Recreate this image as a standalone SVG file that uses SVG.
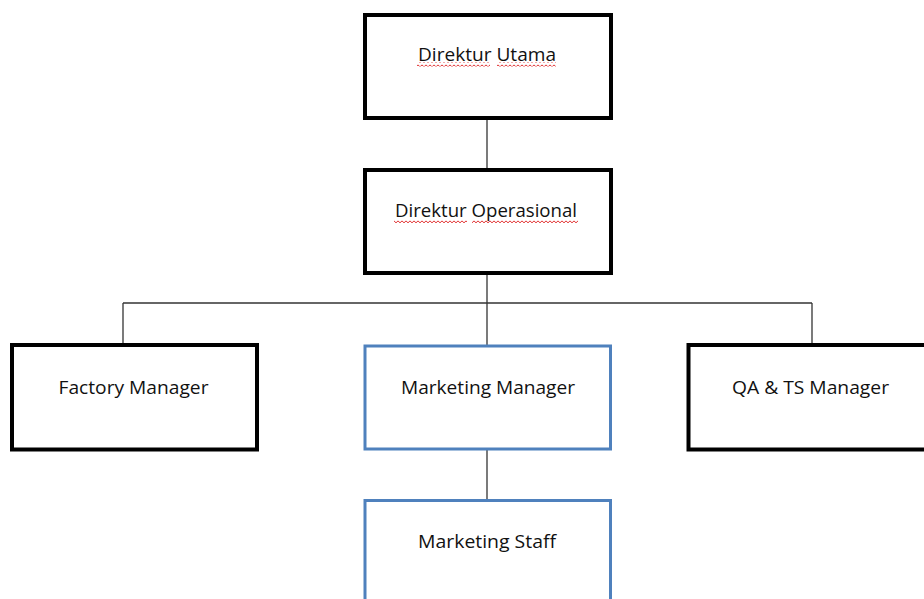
<svg xmlns="http://www.w3.org/2000/svg" width="924" height="599" viewBox="0 0 924 599">
<defs>
<style>
.box{fill:#fff;stroke:#000;stroke-width:4}
.blue{fill:#fff;stroke:#4F81BD;stroke-width:3}
.lbl{font-family:"Open Sans","Liberation Sans",sans-serif;font-size:18.5px;fill:#111;text-anchor:middle}
.con{stroke:#333;stroke-width:1.3;fill:none}
</style>
<pattern id="sq" width="4" height="4" patternUnits="userSpaceOnUse">
<path d="M0 2.8 L2 0.9 L4 2.8" fill="none" stroke="#e03030" stroke-width="1"/>
</pattern>
</defs>
<rect width="924" height="599" fill="#fff"/>
<g id="connectors">
<path class="con" d="M487 118 V170"/>
<path class="con" d="M487 273 V346"/>
<path class="con" d="M123 303 H812"/>
<path class="con" d="M123 303 V345"/>
<path class="con" d="M812 303 V345"/>
<path class="con" d="M487 449 V500"/>
</g>
<g id="direktur-utama">
<rect class="box" x="365" y="15" width="246" height="103"/>
<text class="lbl" x="487" y="61" textLength="138" lengthAdjust="spacingAndGlyphs">Direktur Utama</text>
<rect x="417" y="62.5" width="73" height="4" fill="url(#sq)"/>
<rect x="497" y="62.5" width="59" height="4" fill="url(#sq)"/>
</g>
<g id="direktur-operasional">
<rect class="box" x="365" y="170" width="246" height="103"/>
<text class="lbl" x="486" y="217" textLength="182" lengthAdjust="spacingAndGlyphs">Direktur Operasional</text>
<rect x="394" y="219.5" width="73" height="4" fill="url(#sq)"/>
<rect x="472" y="219.5" width="106" height="4" fill="url(#sq)"/>
</g>
<g id="factory-manager">
<rect class="box" x="12" y="345" width="245" height="104.5"/>
<text class="lbl" x="133.5" y="393.5" textLength="150" lengthAdjust="spacingAndGlyphs">Factory Manager</text>
</g>
<g id="marketing-manager">
<rect class="blue" x="365" y="346" width="245.5" height="103"/>
<text class="lbl" x="488" y="393.5" textLength="174" lengthAdjust="spacingAndGlyphs">Marketing Manager</text>
</g>
<g id="qa-ts-manager">
<rect class="box" x="688.5" y="345" width="250" height="104.5"/>
<text class="lbl" x="810.5" y="393.5" textLength="157" lengthAdjust="spacingAndGlyphs">QA &amp; TS Manager</text>
</g>
<g id="marketing-staff">
<rect class="blue" x="365" y="500.5" width="245.5" height="120"/>
<text class="lbl" x="487" y="548" textLength="138" lengthAdjust="spacingAndGlyphs">Marketing Staff</text>
</g>
</svg>
